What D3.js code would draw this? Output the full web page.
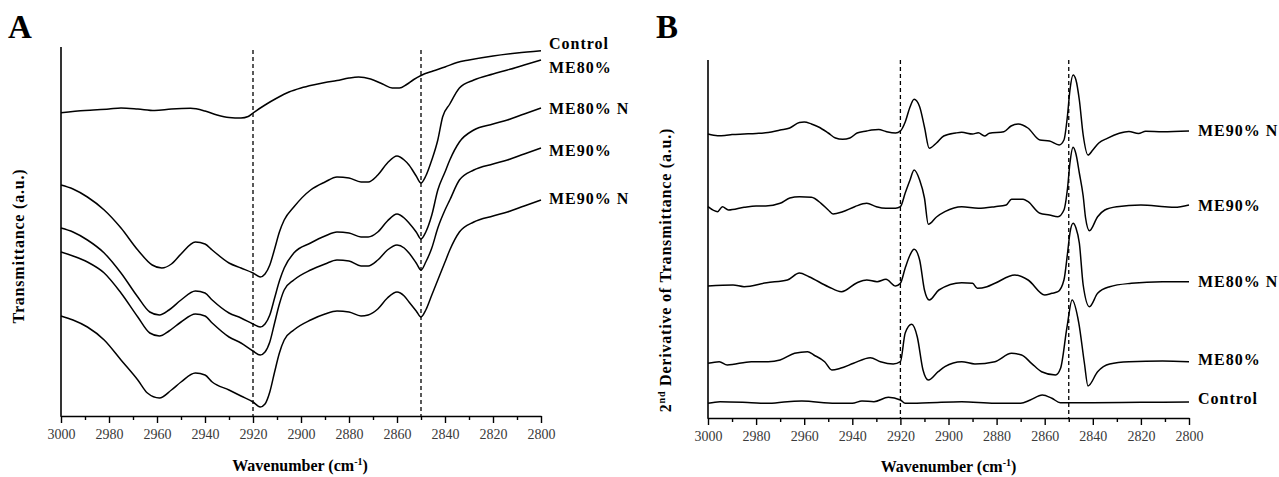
<!DOCTYPE html>
<html>
<head>
<meta charset="utf-8">
<script src="https://cdn.jsdelivr.net/npm/d3@7"></script>
<style>
  body { margin: 0; background: #fff; }
  svg text { font-family: "Liberation Serif", "Times New Roman", serif; }
</style>
</head>
<body>
<svg id="chart" width="1279" height="477"></svg>
<script>
// ---- data (wavenumber cm-1, arbitrary units) ----
const wnDomain = [3000, 2800];
const majorTicks = [3000, 2980, 2960, 2940, 2920, 2900, 2880, 2860, 2840, 2820, 2800];
const minorTicks = [2990, 2970, 2950, 2930, 2910, 2890, 2870, 2850, 2830, 2810];
const markerLines = [2920, 2850];

// panel A : transmittance
const aControl = [[3000,303.3],[2990,305.5],[2980,307],[2975,308],[2968,307],[2961,305.5],[2954,307],[2946,307.7],[2940,305],[2935,301],[2930,298.5],[2925,298],[2922,299.5],[2920,303],[2915,311],[2910,318],[2905,324],[2900,328],[2895,331],[2890,333.5],[2885,335.5],[2880,338],[2876,339],[2871,337],[2866,332],[2862,328],[2859,328],[2856,331.5],[2853,336.5],[2850,340.5],[2845,345],[2840,349],[2835,353.5],[2830,356],[2820,360],[2810,363],[2800,365.3]];
const aME80 = [[3000,231],[2995,227],[2989,219],[2982,206],[2975,188],[2968,166],[2962,151],[2958,148],[2954,152],[2950,162],[2944,174],[2940,172],[2937,166],[2930,153],[2925,148],[2920,143],[2917,139],[2915,142],[2913,151],[2911,167],[2909,184],[2907,196],[2903,209],[2896,226],[2890,234],[2885,239],[2880,238],[2875,234],[2872,234],[2868,241],[2864,253],[2860,260],[2857,256],[2855,251],[2852,240],[2850,233],[2848,240],[2845.5,256],[2843,276],[2841,299],[2838,312],[2834,328],[2828,336],[2820,342],[2814,346],[2807,351],[2800,356]];
const aME80N = [[3000,188],[2995,184],[2989,176],[2982,163],[2975,143],[2968,119],[2963,104],[2959,101],[2955,106],[2950,116],[2944,125],[2940,123],[2937,116],[2930,103],[2925,98],[2920,92],[2917,89],[2915,92],[2913,101],[2911,118],[2909,135],[2907,148],[2903,163],[2896,173],[2890,180],[2885,184],[2880,183],[2875,179],[2872,179],[2868,184],[2864,195],[2860,202],[2857,198],[2855,193],[2852,184],[2850,177],[2848,184],[2845.5,201],[2843,226],[2840,244],[2838,256],[2834,274],[2828,286],[2820,292],[2814,296],[2807,302],[2800,308]];
const aME90 = [[3000,164],[2995,160],[2989,154],[2982,143],[2975,123],[2968,99],[2963,83],[2959,80],[2955,85],[2950,94],[2944,102],[2940,100],[2937,93],[2930,79],[2925,73],[2920,65],[2917,61],[2915,64],[2913,74],[2911,93],[2909,112],[2907,126],[2903,136],[2896,146],[2890,152],[2885,156],[2880,155],[2875,150],[2872,150],[2868,156],[2864,166],[2860,171],[2857,168],[2855,163],[2852,153],[2850,146],[2848,154],[2845.5,168],[2843,188],[2840,206],[2838,216],[2834,236],[2828,246],[2820,252],[2814,256],[2807,262],[2800,268]];
const aME90N = [[3000,100],[2995,96],[2989,89],[2982,76],[2975,56],[2968,36],[2964,23],[2959,18],[2954,26],[2950,34],[2944,43],[2940,41],[2937,34],[2930,26],[2925,20],[2920,14],[2917,9],[2915,12],[2913,24],[2911,44],[2909,63],[2907,76],[2903,86],[2896,96],[2890,102],[2885,105],[2880,104],[2875,100],[2872,101],[2868,107],[2864,118],[2860,124],[2857,120],[2855,114],[2852,105],[2850,99],[2848,106],[2845.5,121],[2843,136],[2840,154],[2838,166],[2834,184],[2828,194],[2820,200],[2814,204],[2807,210],[2800,216]];

// panel B : second derivative
const bME90N = [[3000,284],[2996,282.3],[2993,282.5],[2990,283.5],[2985,284],[2980,284.5],[2975,285.4],[2970,288],[2966,290],[2962,295.5],[2960,296],[2957,294],[2954,291],[2950,285],[2947,280],[2944,278.7],[2941,280],[2938,285],[2934,287],[2932,288],[2929,288.5],[2926,286.5],[2922,285],[2920,287],[2918,296],[2916,311],[2914.3,318.7],[2912,311.3],[2910,291],[2908,269.7],[2905,275],[2902,282],[2897,285],[2894.5,285.7],[2890,284],[2887.6,285.3],[2885,282],[2883,284.7],[2877,286.3],[2874,292],[2871,294],[2867,290],[2862,278],[2858,277],[2854,273],[2852,278],[2850.5,303],[2849.5,328],[2848.2,343],[2847,338],[2845.6,318],[2844,283],[2842,263],[2840,268],[2837.5,275],[2834,279.7],[2829,284.7],[2825,286.5],[2821,284.5],[2818,286.7],[2811,286.3],[2800,287]];
const bME90 = [[3000,211.3],[2996,206.3],[2994,211.3],[2991.5,208],[2985,210.7],[2980,212],[2976,212],[2970,214.7],[2966,220],[2962,221.3],[2957,220.7],[2953,214.7],[2950,208],[2948,204],[2944,206.3],[2939,211.3],[2934,214.7],[2930,211.3],[2926,209.7],[2922,209.7],[2920,211.3],[2918,225],[2916,238],[2914.3,248],[2912,238],[2910,220],[2908.4,193.7],[2905,201],[2901.5,206.3],[2894.5,211.3],[2887.6,209.7],[2880.7,211.3],[2876,213],[2873.8,218.7],[2869,218.7],[2866.9,216.3],[2862,204.7],[2858,203],[2854.5,201.3],[2852,208],[2850.5,230],[2849.5,255],[2848.2,270.7],[2847,264],[2845.6,245],[2844,222],[2843,200],[2841.4,187.3],[2838,201.3],[2835,208],[2830,211.3],[2820,213],[2810,211.3],[2806,210.7],[2800,213]];
const bME80N = [[3000,132],[2989.6,133],[2985,131.3],[2975.6,135.3],[2967,138],[2962,145],[2958,141.3],[2950,131.3],[2944.5,126.3],[2938,135.3],[2934,138],[2929.7,136.3],[2926,138.7],[2922,132],[2920,134.7],[2918,150],[2916,163],[2914.3,168.7],[2912,158],[2910,128],[2908,118],[2904,128],[2894.5,135.3],[2890,134.7],[2888,129.7],[2884,131.3],[2880.7,134.7],[2872.4,143],[2866.9,138],[2860,123],[2857,124.7],[2854.5,126.3],[2852,138],[2850.5,165],[2849.5,185],[2848.2,194.7],[2847,190],[2845.6,175],[2844,133],[2841.4,111.3],[2838,124.7],[2833,131.3],[2824,134.7],[2811,136.3],[2800,136.3]];
const bME80 = [[3000,54.7],[2995.3,56.3],[2992,53],[2982,56.3],[2975,56.3],[2970,58],[2964,64.7],[2958.6,66.3],[2956,63],[2951.5,56.3],[2948.5,48],[2945,49.7],[2939.5,54.7],[2932.5,60.3],[2928.3,56.3],[2923,54],[2920,56.3],[2918,85],[2915.3,93.7],[2913,81.3],[2910.6,48],[2908.4,38],[2904.3,46.3],[2901.5,51.3],[2894.5,56.3],[2889,54],[2880.7,56.3],[2873.8,64.7],[2869.6,63],[2865.5,54.7],[2861.3,46.3],[2855.5,43],[2853.4,49.7],[2850.7,91.3],[2848.6,118],[2845.8,94.7],[2843.5,55],[2842,32],[2838,46.3],[2833,54],[2825,56.3],[2811,57],[2800,56.3]];
const bControl = [[3000,14.7],[2995,16.3],[2982,15.3],[2975.6,14.7],[2967,16.3],[2961,17],[2947,14.7],[2940,14.7],[2936,17],[2931,16.3],[2925,20.7],[2920,18],[2918,14.7],[2908,15.3],[2894.5,16.3],[2880.7,14.7],[2870,14.7],[2866,18],[2861,23],[2857,19.7],[2853.5,15.3],[2840,15.3],[2820,15.7],[2800,16]];

const aNames = ["Control", "ME80%", "ME80% N", "ME90%", "ME90% N"];
const bNames = ["ME90% N", "ME90%", "ME80% N", "ME80%", "Control"];

const svg = d3.select("#chart");

function drawPanel(p) {
  const g = svg.append("g");

  const x = d3.scaleLinear().domain(wnDomain).range([p.left, p.right]);
  const y = d3.scaleLinear().domain(p.yDomain).range([p.bottom, p.bottom - p.yDomain[1] * p.unit]);

  // dashed reference lines
  g.selectAll(".ref")
    .data(markerLines)
    .enter().append("line")
    .attr("x1", d => x(d)).attr("x2", d => x(d))
    .attr("y1", p.dashTop).attr("y2", p.bottom)
    .attr("stroke", "#000")
    .attr("stroke-width", 1.3)
    .attr("stroke-dasharray", "4,3");

  // x axis, major + minor
  const xAxis = d3.axisBottom(x).tickValues(majorTicks).tickFormat(d3.format("d"))
    .tickSize(7).tickSizeOuter(0).tickPadding(6);
  const ax = g.append("g").attr("transform", "translate(0," + p.bottom + ")").call(xAxis);
  ax.select(".domain").attr("stroke", "#000").attr("stroke-width", 1.6);
  ax.selectAll(".tick line").attr("stroke", "#000").attr("stroke-width", 1.4);
  ax.selectAll("text")
    .style("font-size", "14px")
    .attr("fill", "#3a3a3a");

  g.append("g").attr("transform", "translate(0," + p.bottom + ")")
    .call(d3.axisBottom(x).tickValues(minorTicks).tickFormat("").tickSize(4).tickSizeOuter(0))
    .call(s => s.select(".domain").remove())
    .selectAll(".tick line").attr("stroke", "#000").attr("stroke-width", 1.4);

  // y axis: bare line only
  g.append("line")
    .attr("x1", p.left).attr("x2", p.left)
    .attr("y1", p.top).attr("y2", p.bottom + 0.8)
    .attr("stroke", "#000").attr("stroke-width", 1.6);

  const line = d3.line()
    .x(d => x(d[0]))
    .y(d => y(d[1]))
    .curve(d3.curveMonotoneX);

  g.selectAll(".spec")
    .data(p.series)
    .enter().append("path")
    .attr("d", d => line(d))
    .attr("fill", "none")
    .attr("stroke", "#000")
    .attr("stroke-width", 1.5)
    .attr("stroke-linejoin", "round");

  // series names at the right end of each trace
  g.selectAll(".lab")
    .data(p.series)
    .enter().append("text")
    .attr("x", p.right + p.labelGap)
    .attr("y", (d, i) => y(d[d.length - 1][1]) + p.labelDy[i])
    .attr("dy", "0.35em")
    .style("font-size", "16px")
    .style("font-weight", "bold")
    .style("letter-spacing", "1px")
    .text((d, i) => p.names[i]);

  // axis titles
  const xt = g.append("text")
    .attr("x", (p.left + p.right) / 2 + p.xTitleShift)
    .attr("y", p.xTitleY)
    .attr("text-anchor", "middle")
    .style("font-size", "16px")
    .style("font-weight", "bold");
  xt.append("tspan").text("Wavenumber (cm");
  xt.append("tspan").attr("dy", -6).style("font-size", "10px").text("-1");
  xt.append("tspan").attr("dy", 6).text(")");

  const yt = g.append("text")
    .attr("transform", "translate(" + p.yTitleX + "," + p.yTitleY + ") rotate(-90)")
    .attr("text-anchor", "middle")
    .style("font-size", "16px")
    .style("font-weight", "bold")
    .style("letter-spacing", "0.8px");
  p.yTitle.forEach(part => {
    const t = yt.append("tspan").text(part.t);
    if (part.sup) t.attr("dy", -6).style("font-size", "10px");
    if (part.after) t.attr("dy", 6);
  });

  // panel letter
  g.append("text")
    .attr("x", p.letterX).attr("y", 38)
    .style("font-size", "33px")
    .style("font-weight", "bold")
    .text(p.letter);
}

drawPanel({
  letter: "A", letterX: 8,
  left: 61, right: 541, top: 47, bottom: 416, dashTop: 50,
  yDomain: [0, 369], unit: 1,
  series: [aControl, aME80, aME80N, aME90, aME90N],
  names: aNames,
  labelGap: 8, labelDy: [-7, 7, 0, 2, -2],
  xTitleY: 471, xTitleShift: -1,
  yTitleX: 24, yTitleY: 246,
  yTitle: [{t: "Transmittance (a.u.)"}]
});

drawPanel({
  letter: "B", letterX: 656,
  left: 708, right: 1189, top: 60, bottom: 418, dashTop: 60,
  yDomain: [0, 358], unit: 1,
  series: [bME90N, bME90, bME80N, bME80, bControl],
  names: bNames,
  labelGap: 9, labelDy: [-1, 0, 0, -2, -4],
  xTitleY: 472, xTitleShift: 0,
  yTitleX: 671, yTitleY: 270,
  yTitle: [{t: "2"}, {t: "nd", sup: true}, {t: " Derivative of Transmittance (a.u.)", after: true}]
});
</script>
</body>
</html>
